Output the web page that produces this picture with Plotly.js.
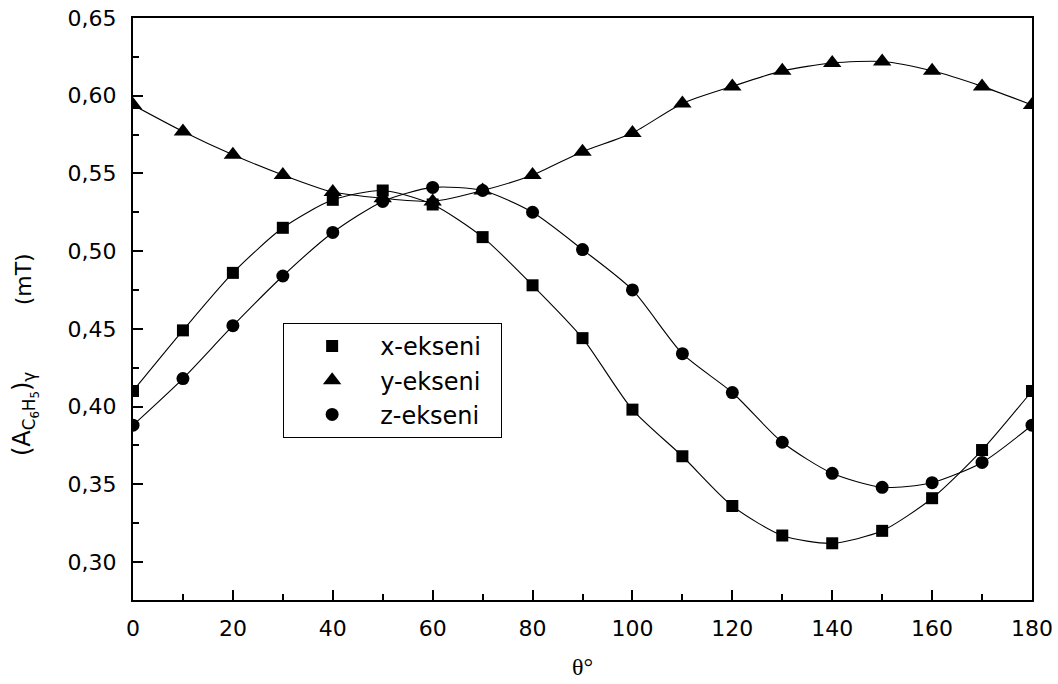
<!DOCTYPE html>
<html><head><meta charset="utf-8">
<script src="https://cdn.plot.ly/plotly-3.0.1.min.js"></script>
<style>body{margin:0;background:#fff}#c{width:1058px;height:684px}</style>
</head><body><div id="c"></div>
<script>
const theta = [0,10,20,30,40,50,60,70,80,90,100,110,120,130,140,150,160,170,180];
const xEkseni = [0.410,0.449,0.486,0.515,0.533,0.539,0.530,0.509,0.478,0.444,0.398,0.368,0.336,0.317,0.312,0.320,0.341,0.372,0.410];
const yEkseni = [0.594,0.577,0.562,0.549,0.538,0.534,0.532,0.539,0.549,0.564,0.576,0.595,0.606,0.616,0.621,0.622,0.616,0.606,0.594];
const zEkseni = [0.388,0.418,0.452,0.484,0.512,0.532,0.541,0.539,0.525,0.501,0.475,0.434,0.409,0.377,0.357,0.348,0.351,0.364,0.388];
const names = ['x-ekseni','y-ekseni','z-ekseni'];
const symbols = ['square','triangle-up','circle'];
const sizes = [12,16,13];
const series = [xEkseni,yEkseni,zEkseni];

const FONT = 'DejaVu Sans, Liberation Sans, Arial, sans-serif';
const traces = [];
series.forEach((s,i)=>{
  traces.push({x:theta,y:s,mode:'lines',line:{shape:'spline',smoothing:0.7,color:'#000',width:1.1},showlegend:false,hoverinfo:'skip'});
});
series.forEach((s,i)=>{
  traces.push({x:theta,y:s,mode:'markers',name:names[i]+'\u00a0\u00a0',marker:{symbol:symbols[i],size:sizes[i],color:'#000',line:{width:0}}});
});

const axBase = {showgrid:false,zeroline:false,showline:true,linecolor:'#000',linewidth:2,mirror:true,
  ticks:'inside',ticklen:10,tickwidth:2,tickcolor:'#000',
  tickfont:{family:FONT,size:22,color:'#000'}};

const layout = {
  width:1058,height:684,
  margin:{l:133,r:26,t:18,b:84},
  paper_bgcolor:'#fff',plot_bgcolor:'#fff',
  separators:',.',
  xaxis:Object.assign({},axBase,{range:[0,180],dtick:20,tick0:0,ticklabelstandoff:8,
    minor:{dtick:10,ticks:'inside',ticklen:6,tickwidth:2,tickcolor:'#000'}}),
  yaxis:Object.assign({},axBase,{range:[0.2755,0.65],dtick:0.05,tick0:0.3,tickformat:'.2f',ticklabelstandoff:10,
    minor:{dtick:0.025,ticks:'inside',ticklen:6,tickwidth:2,tickcolor:'#000'}}),
  legend:{x:0.167,y:0.476,xanchor:'left',yanchor:'top',bordercolor:'#000',borderwidth:1,bgcolor:'#fff',
    font:{family:FONT,size:24,color:'#000'},tracegroupgap:0,itemwidth:86},
  annotations:[
    {xref:'paper',yref:'paper',x:-0.120,y:0.3196,xanchor:'center',yanchor:'middle',textangle:-90,showarrow:false,
     text:'(A<sub>C<sub>6</sub>H<sub>5</sub></sub>)<sub>γ</sub>',font:{family:FONT,size:24,color:'#000'}},
    {xref:'paper',yref:'paper',x:-0.122,y:0.5515,xanchor:'center',yanchor:'middle',textangle:-90,showarrow:false,
     text:'(mT)',font:{family:FONT,size:22,color:'#000'}},
    {xref:'paper',yref:'paper',x:0.5,y:-0.115,xanchor:'center',yanchor:'middle',showarrow:false,
     text:'θ°',font:{family:'Liberation Serif, Times New Roman, serif',size:24,color:'#000'}}
  ]
};
Plotly.newPlot('c',traces,layout,{displayModeBar:false,staticPlot:true});
</script></body></html>
